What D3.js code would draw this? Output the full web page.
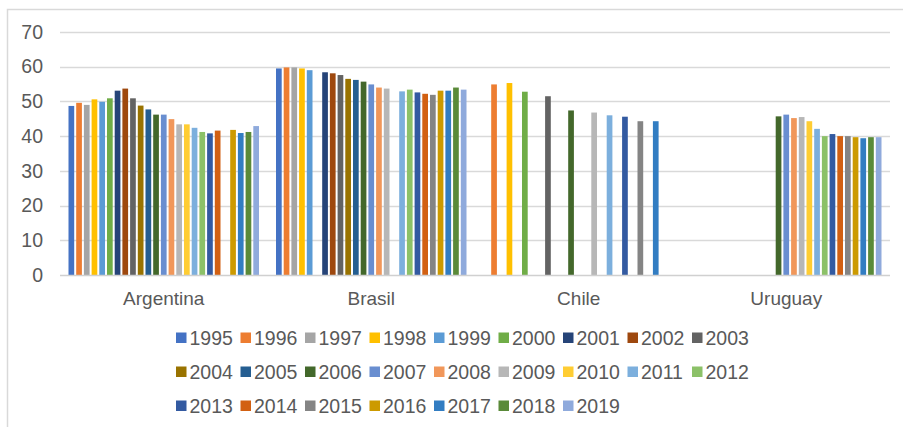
<!DOCTYPE html>
<html>
<head>
<meta charset="utf-8">
<script src="https://cdn.jsdelivr.net/npm/d3@7"></script>
<style>
  html, body { margin: 0; padding: 0; background: #ffffff; }
  svg { display: block; }
  text { font-family: "Liberation Sans", Arial, Helvetica, sans-serif; fill: #595959; }
</style>
</head>
<body>
<svg id="chart" width="903" height="427"></svg>
<script>
// Countries on the category axis
const countries = ["Argentina", "Brasil", "Chile", "Uruguay"];

// One series per year
const years = ["1995","1996","1997","1998","1999","2000","2001","2002","2003",
               "2004","2005","2006","2007","2008","2009","2010","2011","2012",
               "2013","2014","2015","2016","2017","2018","2019"];

// Series colours, in year order
const colors = ["#4472C4","#ED7D31","#A5A5A5","#FFC000","#5B9BD5","#70AD47","#264478","#9E480E","#636363",
                "#997300","#255E91","#43682B","#698ED0","#F1975A","#B7B7B7","#FFCD33","#7CAFDD","#8CC168",
                "#335AA1","#D26012","#848484","#CC9A00","#327DC2","#5A8A39","#8FAADC"];

// Values per country, one per year (null = no data)
const argentina = [48.7,49.6,49.0,50.6,49.9,50.9,53.1,53.7,50.9,48.8,47.7,46.2,46.2,44.9,43.4,43.4,42.4,41.2,40.8,41.6,null,41.8,40.9,41.2,42.9];
const brasil    = [59.5,59.8,59.8,59.5,59.0,null,58.4,58.1,57.6,56.5,56.2,55.7,54.9,54.0,53.7,null,52.9,53.4,52.6,52.2,51.9,53.1,53.1,54.0,53.4];
const chile     = [null,54.9,null,55.3,null,52.8,null,null,51.5,null,null,47.4,null,null,46.8,null,46.0,null,45.6,null,44.3,null,44.3,null,null];
const uruguay   = [null,null,null,null,null,null,null,null,null,null,null,45.7,46.2,45.2,45.5,44.3,42.1,40.0,40.6,40.0,40.0,39.7,39.4,39.7,39.7];

// Y axis tick values
const yTicks = [0, 10, 20, 30, 40, 50, 60, 70];

const seriesByCountry = [argentina, brasil, chile, uruguay];

const svg = d3.select("#chart");

// Chart frame
svg.append("rect")
  .attr("x", 7.5).attr("y", 9.5)
  .attr("width", 1000).attr("height", 1000)
  .attr("fill", "none").attr("stroke", "#d9d9d9").attr("stroke-width", 1.5);

const plot = { left: 60, right: 890, top: 32, bottom: 275 };

const x0 = d3.scaleBand().domain(countries).range([plot.left, plot.right]).paddingInner(0).paddingOuter(0);
const x1 = d3.scaleBand().domain(years).range([0, x0.bandwidth()]).paddingInner(0).paddingOuter(0.974);
const y = d3.scaleLinear().domain([0, 70]).range([plot.bottom, plot.top]);

// Gridlines
svg.append("g")
  .selectAll("line")
  .data(yTicks.filter(t => t > 0))
  .join("line")
  .attr("x1", plot.left).attr("x2", plot.right)
  .attr("y1", d => Math.round(y(d)) + 0.5).attr("y2", d => Math.round(y(d)) + 0.5)
  .attr("stroke", "#d9d9d9").attr("stroke-width", 1.6);

// Y axis labels
const yAxis = d3.axisLeft(y).tickValues(yTicks).tickSize(0).tickPadding(0).tickFormat(d3.format("d"));
const yg = svg.append("g").attr("transform", "translate(43,0)").call(yAxis);
yg.select(".domain").remove();
yg.selectAll("text").attr("font-size", "19.5px").attr("fill", "#595959")
  .style("font-family", "'Liberation Sans', Arial, sans-serif");

// Bars
const rows = [];
countries.forEach((c, ci) => {
  seriesByCountry[ci].forEach((v, yi) => {
    if (v !== null) rows.push({ country: c, year: years[yi], value: v, color: colors[yi] });
  });
});

const barInset = 1;
svg.append("g")
  .selectAll("rect")
  .data(rows)
  .join("rect")
  .attr("x", d => x0(d.country) + x1(d.year) + barInset)
  .attr("width", x1.bandwidth() - 2 * barInset)
  .attr("y", d => y(d.value))
  .attr("height", d => y(0) - y(d.value))
  .attr("fill", d => d.color);

// Category axis line
svg.append("line")
  .attr("x1", plot.left).attr("x2", plot.right)
  .attr("y1", plot.bottom + 0.5).attr("y2", plot.bottom + 0.5)
  .attr("stroke", "#d0d0d0").attr("stroke-width", 1.6);

// Category labels
const xAxis = d3.axisBottom(x0).tickSize(0).tickPadding(0);
const xg = svg.append("g").attr("transform", `translate(0,${plot.bottom + 16})`).call(xAxis);
xg.select(".domain").remove();
xg.selectAll("text").attr("font-size", "19px").attr("fill", "#595959")
  .style("font-family", "'Liberation Sans', Arial, sans-serif");

// Legend: 9 columns, 3 rows
const legendCols = 9, legendX = 176, legendStep = 64.5, legendRowBase = 345, legendRowStep = 34;
const legend = svg.append("g")
  .selectAll("g")
  .data(years)
  .join("g")
  .attr("transform", (d, i) => `translate(${legendX + (i % legendCols) * legendStep},${legendRowBase + Math.floor(i / legendCols) * legendRowStep})`);

legend.append("rect")
  .attr("x", 0).attr("y", -12.5)
  .attr("width", 10.5).attr("height", 10.5)
  .attr("fill", (d, i) => colors[i]);

legend.append("text")
  .attr("x", 13.5).attr("y", 0)
  .attr("font-size", "19.5px")
  .text(d => d);
</script>
</body>
</html>
